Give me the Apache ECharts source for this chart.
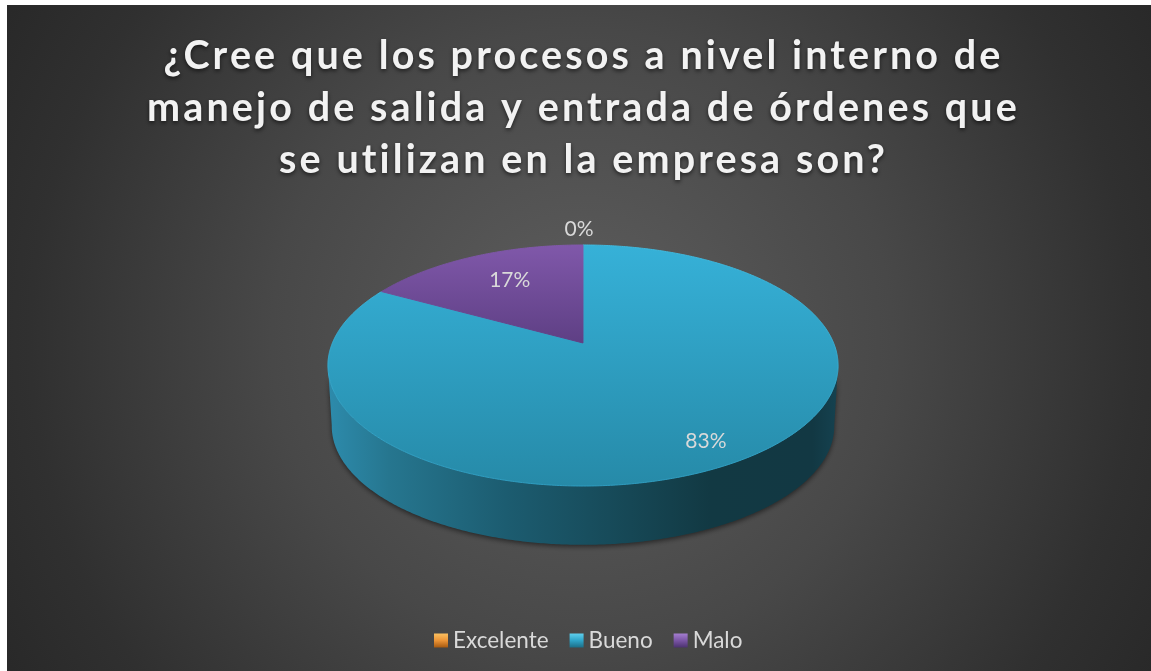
<!DOCTYPE html>
<html>
<head>
<meta charset="utf-8">
<style>html,body{margin:0;padding:0;background:#fff}#c{width:1151px;height:671px}</style>
<script src="https://cdn.jsdelivr.net/npm/echarts@6/dist/echarts.min.js"></script>
</head>
<body>
<div id="c"></div>
<script>
var titleText = '¿Cree que los procesos a nivel interno de\nmanejo de salida y entrada de órdenes que\nse utilizan en la empresa son?';
var categories = ['Excelente', 'Bueno', 'Malo'];
var values = [0, 83, 17];

// Wider tracking for the title only (canvas letterSpacing)
var origFill = CanvasRenderingContext2D.prototype.fillText;
CanvasRenderingContext2D.prototype.fillText = function () {
  var big = /^bold/.test(this.font) || /^700/.test(this.font);
  if (big) this.letterSpacing = '3.1px';
  var r = origFill.apply(this, arguments);
  if (big) this.letterSpacing = '0px';
  return r;
};

var FONT = 'Lato, "Open Sans", sans-serif';
var total = values.reduce(function (a, b) { return a + b; }, 0);

// perspective projection of a flat disc
var apexX = 583, apexY = 343, kx = 250.6, ky = 116.3, persp = 0.1867;
var depth = 61, bottomScale = 0.985;
function project(deg, rho, bottom) {
  var t = deg * Math.PI / 180, c = Math.cos(t) * rho, s = Math.sin(t) * rho;
  var w = 1 + persp * c, sc = bottom ? bottomScale : 1;
  return [apexX + sc * kx * s / w, apexY - sc * ky * c / w + (bottom ? depth : 0)];
}
function arc(a, b, rho, bottom) {
  var pts = [], n = Math.max(2, Math.ceil(Math.abs(b - a) * 2));
  for (var i = 0; i <= n; i++) pts.push(project(a + (b - a) * i / n, rho, bottom));
  return pts;
}
var palette = {
  Excelente: { top: ['#f5a03a', '#c06a14'] },
  Bueno: { top: ['#36b1d8', '#268aa8'], rim: ['#3fb9de', '#2d9cc0'] },
  Malo: { top: ['#8058aa', '#5e3f84'], rim: ['#8058aa', '#5e3f84'] }
};
var legendColors = {
  Excelente: ['#fbc060', '#ec9436', '#a85a10'],
  Bueno: ['#5fd0ee', '#2fa4c8', '#1c6f88'],
  Malo: ['#a47ed0', '#7a55a5', '#4c3270']
};
function vGrad(c) {
  return { type: 'linear', x: 0, y: 0, x2: 0, y2: 1, colorStops: c.map(function (col, i) { return { offset: i / (c.length - 1), color: col }; }) };
}
var wallGrad = {
  type: 'linear', x: 0, y: 0, x2: 1, y2: 0,
  colorStops: [
    { offset: 0, color: '#2d8bac' }, { offset: 0.12, color: '#26768f' }, { offset: 0.35, color: '#1c5c70' },
    { offset: 0.55, color: '#174b5a' }, { offset: 0.75, color: '#123943' }, { offset: 0.95, color: '#123843' }, { offset: 1, color: '#154250' }
  ]
};
var labelRho = [1.2, 0.846, 0.70];
var labelShift = [-4, -2, 7];

function makeRender(idx) {
  return function () {
    var before = 0;
    for (var i = 0; i < idx; i++) before += values[i];
    var start = before / total * 360, sweep = values[idx] / total * 360, end = start + sweep;
    var name = categories[idx], kids = [];
    if (sweep > 0) {
      var a = Math.max(start, 100.5), b = Math.min(end, 259.5);
      if (b > a) {
        var topEdge = arc(a, b, 1, false), botEdge = arc(b, a, 1, true);
        kids.push({
          type: 'polygon', shape: { points: topEdge.concat(botEdge) },
          style: { fill: wallGrad, shadowBlur: 5, shadowColor: 'rgba(0,0,0,0.5)', shadowOffsetY: 2 }
        });
      }
      var pts = [[apexX, apexY]].concat(arc(start, end, 1, false));
      kids.push({
        type: 'polygon', shape: { points: pts },
        style: { fill: vGrad(palette[name].top), stroke: vGrad(palette[name].rim), lineWidth: 1 }
      });
    }
    var mid = project((start + end) / 2, labelRho[idx], false);
    kids.push({
      type: 'text', z2: 10,
      style: {
        text: Math.round(values[idx] / total * 100) + '%', x: mid[0] + labelShift[idx], y: mid[1],
        fill: '#d9d9d9', font: '21px ' + FONT, align: 'center', verticalAlign: 'middle'
      }
    });
    return { type: 'group', children: kids };
  };
}

var chart = echarts.init(document.getElementById('c'), null, { renderer: 'canvas' });
chart.setOption({
  animation: false,
  backgroundColor: '#ffffff',
  graphic: [{
    type: 'rect', z: -10, silent: true,
    shape: { x: 7, y: 5, width: 1144, height: 666 },
    style: {
      fill: {
        type: 'radial', global: true, x: 582, y: 340, r: 690,
        colorStops: [{ offset: 0, color: '#5e5e5e' }, { offset: 0.45, color: '#484848' }, { offset: 0.8, color: '#303030' }, { offset: 1, color: '#272727' }]
      }
    }
  }],
  title: {
    text: titleText, left: 578.5, top: 25, textAlign: 'center',
    textStyle: {
      fontFamily: FONT, fontWeight: 'bold', fontSize: 39.5, lineHeight: 52, color: '#f2f2f2',
      textShadowColor: 'rgba(0,0,0,0.6)', textShadowBlur: 4, textShadowOffsetY: 2
    }
  },
  legend: {
    left: 429, top: 624, selectedMode: false, itemWidth: 14, itemHeight: 14, itemGap: 21,
    icon: 'rect',
    textStyle: { color: '#d9d9d9', fontFamily: FONT, fontSize: 22.5 },
    data: categories.map(function (n) { return { name: n, itemStyle: { color: vGrad(legendColors[n]) } }; })
  },
  series: categories.map(function (n, i) {
    return {
      type: 'custom', name: n, coordinateSystem: 'none', z: i === 1 ? 2 : 3, silent: true,
      itemStyle: { color: palette[n].top[0] },
      data: [values[i]], renderItem: makeRender(i)
    };
  })
});
</script>
</body>
</html>
